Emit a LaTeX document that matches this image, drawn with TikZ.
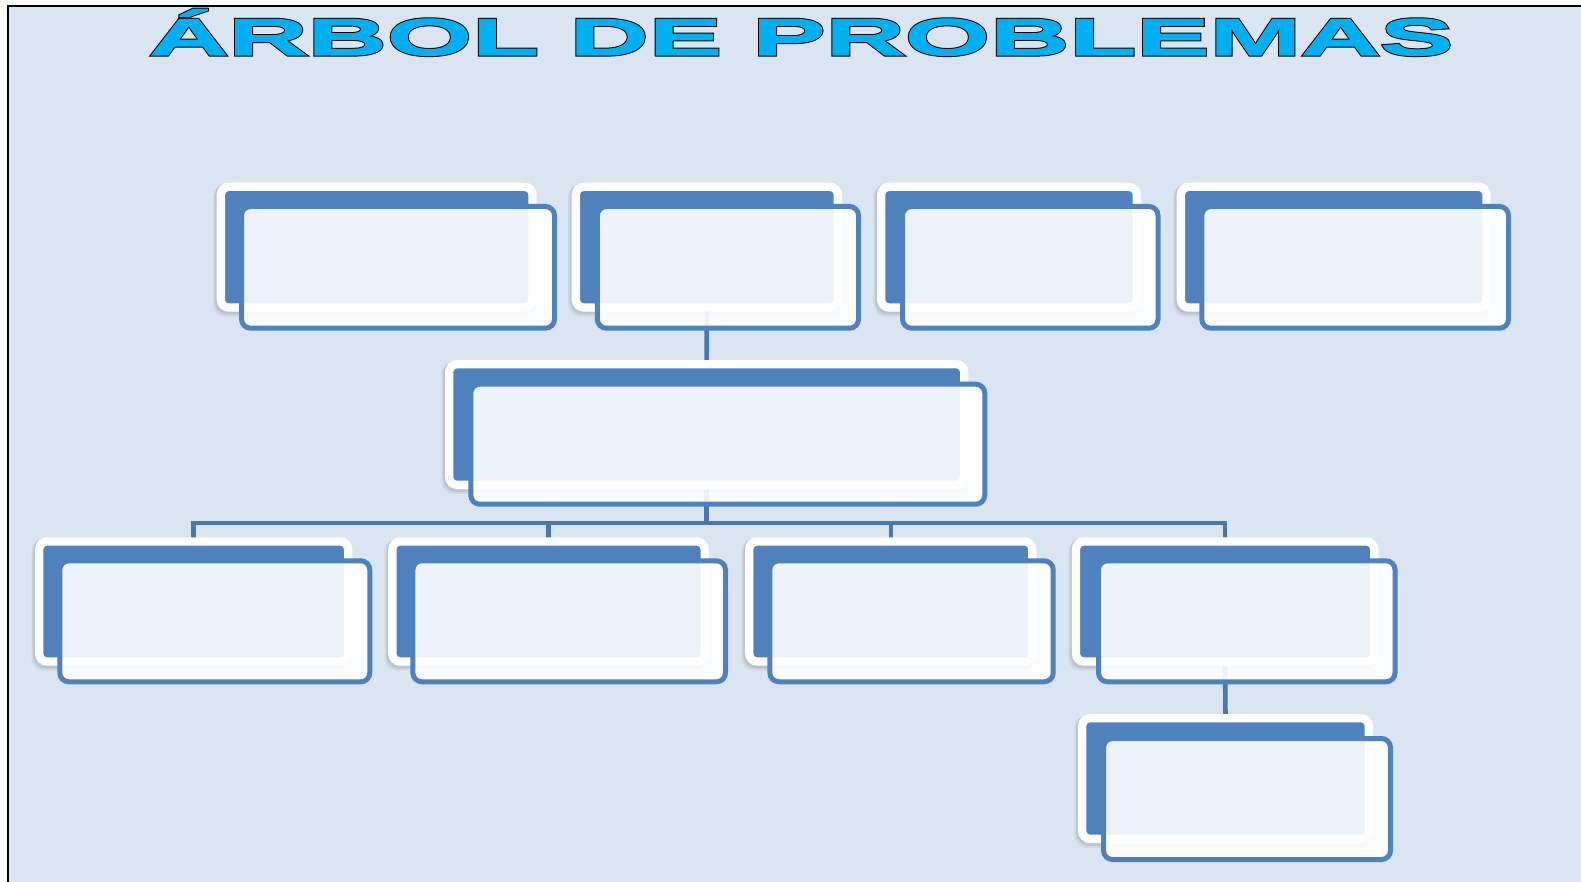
\documentclass[tikz,border=0pt]{standalone}
\usepackage{fontspec}
\newfontfamily\titlefont[FakeStretch=2.122]{Liberation Sans Bold}
\definecolor{boxblue}{HTML}{4F81BD}
\definecolor{connblue}{HTML}{4976AF}
\definecolor{bgblue}{HTML}{DBE5F1}
\definecolor{titlecyan}{HTML}{00B0F0}
\definecolor{shadowc}{HTML}{404040}
\pgfdeclarelayer{bglayer}
\pgfdeclarelayer{connlayer}
\pgfsetlayers{bglayer,connlayer,main}
\tikzset{
  backbox/.style={draw=white, line width=8.3pt, fill=boxblue, rounded corners=8pt,
    inner sep=0pt, outer sep=0pt, rectangle},
  frontbox/.style={draw=boxblue, line width=5pt, fill=white, fill opacity=0.9,
    rounded corners=9pt, inner sep=0pt, outer sep=0pt, rectangle},
  conn/.style={draw=connblue, line width=4.6pt},
  softshadow/.style={fill=shadowc, rounded corners=12pt}
}
% name, back x1,y1,x2,y2, front x1,y1,x2,y2
\newcommand\probbox[9]{%
  \fill[softshadow, opacity=0.08] ({#2-3.5},{#3+1.5}) rectangle ({#4-0.5},{#5+5});
  \fill[softshadow, opacity=0.12] ({#2-1.8},{#3+1}) rectangle ({#4-0.5},{#5+2.8});
  \node[backbox, minimum width={#4-#2-8.3}, minimum height={#5-#3-8.3}] (b#1)
    at ({(#2+#4)/2},{(#3+#5)/2}) {};
  \node[frontbox, minimum width={#8-#6-5}, minimum height={#9-#7-5}] (f#1)
    at ({(#6+#8)/2},{(#7+#9)/2}) {};
}
\newcommand\titletext{ÁRBOL DE PROBLEMAS}
\begin{document}
\begin{tikzpicture}[x=1pt,y=-1pt]
\useasboundingbox (0,0) rectangle (1581,882);
\begin{pgfonlayer}{bglayer}
  \fill[white] (0,0) rectangle (1581,882);
  \fill[bgblue] (8.2,6.4) rectangle (1581,882);
  \draw[black, line width=1.8pt] (8.2,882) -- (8.2,6.4) -- (1581,6.4);
\end{pgfonlayer}

\node[anchor=base west, inner sep=0pt, text=titlecyan,
  font=\titlefont\fontsize{51.7}{52}\selectfont] (title) at (149,55)
  {\rlap{\special{pdf:literal direct 0 0 0 RG 3.2 w 2 Tr}\titletext}%
   \special{pdf:literal direct 0 0.69 0.94 RG 1.2 w 2 Tr}\titletext
   \special{pdf:literal direct 0 Tr}};

% top row
\probbox{1}{216.7}{182.7}{536.7}{311.7}{239}{204}{557}{330.7}
\probbox{2}{571.7}{182.7}{842}{311.7}{594.9}{204}{861}{330.7}
\probbox{3}{877}{182.7}{1141}{311.7}{900}{204}{1160.5}{330.7}
\probbox{4}{1176.7}{182.7}{1490.7}{311.7}{1199.3}{204}{1511}{330.7}
% central
\probbox{c}{445}{360}{968.3}{489}{468.3}{381.7}{987.3}{506.7}
% bottom row
\probbox{A}{35}{537.3}{352.3}{665.7}{57.3}{558.3}{372.3}{684.3}
\probbox{B}{388.2}{537.3}{708.8}{665.7}{410.4}{558.3}{728}{684.3}
\probbox{C}{745.1}{537.3}{1036.5}{665.7}{767.3}{558.3}{1055.7}{684.3}
\probbox{D}{1071.8}{537.3}{1378.3}{665.7}{1096}{558.3}{1397.5}{684.3}
% lowest
\probbox{E}{1078}{714}{1373}{843}{1101}{736}{1393}{862}

\begin{pgfonlayer}{connlayer}
  \coordinate (bus) at (707,523);
  \draw[conn] (b2.south) -- (bc.north);
  \draw[conn] (bc.south) -- (bc.south |- bus);
  \draw[conn] (bA.north) -- (bA.north |- bus) -- (bD.north |- bus) -- (bD.north);
  \draw[conn] (bB.north) -- (bB.north |- bus);
  \draw[conn] (bC.north) -- (bC.north |- bus);
  \draw[conn] (bD.south) -- (bE.north);
\end{pgfonlayer}
\end{tikzpicture}
\end{document}
